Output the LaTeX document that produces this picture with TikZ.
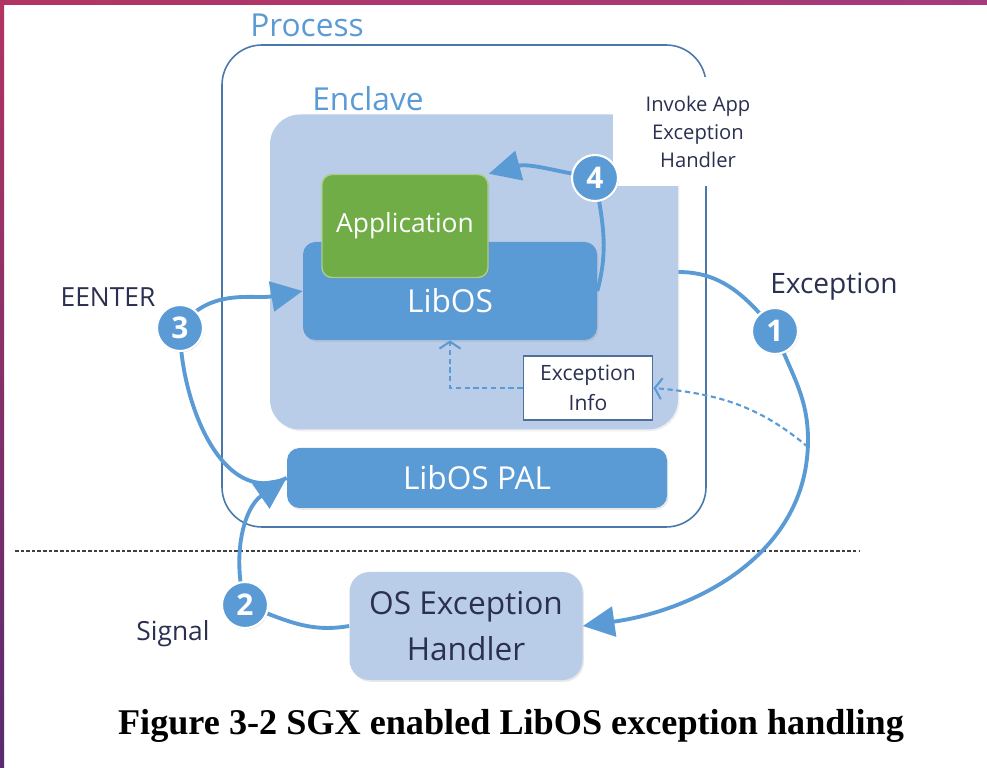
\documentclass[tikz,border=0pt]{standalone}
\usepackage{fontspec}
\usetikzlibrary{arrows.meta,shadows}
\newfontfamily\diafont{Open Sans}
\newfontfamily\capfont{Liberation Serif}
\definecolor{accent}{HTML}{5B9BD5}
\definecolor{enclfill}{HTML}{BACDE8}
\definecolor{appgreen}{HTML}{70AD47}
\definecolor{appline}{HTML}{A9CD8C}
\definecolor{procline}{HTML}{4A78AA}
\definecolor{darktxt}{HTML}{2B3050}
\definecolor{infoline}{HTML}{4E6F9C}
\definecolor{bandtop}{HTML}{B23462}
\definecolor{bandbot}{HTML}{592B70}
\definecolor{bandright}{HTML}{A53A7C}

\tikzset{
  blk/.style={fill=accent, rounded corners=0.25cm, inner sep=0pt, text=white,
    font=\diafont\fontsize{18}{20}\selectfont,
    drop shadow={opacity=0.18, shadow xshift=0.8pt, shadow yshift=-1pt}},
  num/.style={circle, fill=accent, draw=white, line width=1.2pt, minimum size=0.92cm,
    inner sep=0pt, text=white, font=\diafont\bfseries\fontsize{17}{17}\selectfont,
    drop shadow={opacity=0.2, shadow xshift=0.6pt, shadow yshift=-0.8pt}},
  flow/.style={draw=accent, line width=2.2pt, -{Triangle[length=18pt,width=17pt]}},
  hint/.style={draw=accent, line width=1.2pt, dash pattern=on 3pt off 2pt,
    -{Straight Barb[length=4pt,width=12pt]}},
  lbl/.style={text=darktxt, font=\diafont\fontsize{15}{17}\selectfont},
  small/.style={text=darktxt, align=center, font=\diafont\fontsize{11.5}{16}\selectfont},
  title/.style={text=accent, font=\diafont\fontsize{18}{20}\selectfont}
}

\begin{document}
\begin{tikzpicture}[x=0.2mm,y=-0.2mm]
\useasboundingbox (0,0) rectangle (987,768);
% frame of the slide
\fill[white] (0,0) rectangle (987,768);
\shade[top color=bandtop, bottom color=bandbot] (0,0) rectangle (4,768);
\shade[left color=bandtop, right color=bandright] (0,0) rectangle (987,5);

% process and enclave
\node[draw=procline, line width=0.9pt, rounded corners=0.8cm, minimum width=9.68cm,
  minimum height=9.64cm] (process) at (464,286) {};
\node[title] (proclabel) at (307,25) {Process};
\node[fill=enclfill, rounded corners=0.6cm, minimum width=8.16cm, minimum height=6.3cm,
  drop shadow={opacity=0.12, shadow xshift=0.8pt, shadow yshift=-1pt}] (enclave) at (474,272) {};
\node[title] (encllabel) at (368,99) {Enclave};
\node[fill=white, small, minimum width=3.4cm, minimum height=2.18cm] (invoke) at (698,132)
  {Invoke App\\Exception\\Handler};

% boxes
\node[blk, minimum width=5.88cm, minimum height=1.96cm,
  label={[text=white, font=\diafont\fontsize{18}{20}\selectfont, yshift=-0.2cm]center:LibOS}]
  (libos) at (450,291) {};
\node[blk, fill=appgreen, draw=appline, line width=0.8pt, rounded corners=0.2cm,
  minimum width=3.32cm, minimum height=2.06cm, font=\diafont\fontsize{15}{17}\selectfont]
  (app) at (405,226) {Application};
\node[fill=white, draw=infoline, line width=1.1pt, minimum width=2.58cm, minimum height=1.28cm,
  small, font=\diafont\fontsize{12}{17}\selectfont] (info) at (588,388) {Exception\\Info};
\node[blk, minimum width=7.6cm, minimum height=1.2cm] (pal) at (477,478) {LibOS PAL};
\node[blk, fill=enclfill, text=darktxt, rounded corners=0.4cm, align=center,
  minimum width=4.66cm, minimum height=2.16cm, font=\diafont\fontsize{18}{26}\selectfont]
  (osh) at (466,626) {OS Exception\\Handler};

% user / kernel border
\coordinate (sepl) at (15,551);
\coordinate (sepr) at (860,551);
\draw[black!75, line width=1pt, dash pattern=on 2pt off 1.2pt] (sepl) -- (sepr);

% numbered steps
\coordinate (c1) at (775,331);
\coordinate (c2) at (245,605);
\coordinate (c3) at (180,328);
\coordinate (c4) at (595,178);
\coordinate (dstart) at (808,447);

% flows
\draw[flow] (enclave.east) to[out=0,in=130] (c1) to[out=-70,in=90] (808,440)
  to[out=-90,in=8] (osh.east);
\draw[flow] (osh.west) to[out=190,in=-20] (c2) to[out=105,in=215] (pal.west);
\draw[flow] (pal.west) to[out=205,in=-90] (c3) to[out=55,in=190] (libos.west);
\draw[flow] (libos.east) to[out=75,in=-80] (c4) to[out=170,in=15] (app.north east);
\draw[hint] (dstart) to[out=140,in=-5] (info.east);
\draw[hint] (info.west) -| (libos.south);
\foreach \n/\t in {1,2,3,4}
  \node[num] (step\n) at (c\n) {\n};

% labels
\node[lbl] (eenter) at (108,297) {EENTER};
\node[lbl, font=\diafont\fontsize{16}{18}\selectfont] (exc) at (834,287) {Exception};
\node[lbl] (signal) at (173,634) {Signal};

% caption
\node[font=\capfont\bfseries\fontsize{20.6}{23}\selectfont] (caption) at (511,726)
  {Figure 3-2 SGX enabled LibOS exception handling};
\end{tikzpicture}
\end{document}
